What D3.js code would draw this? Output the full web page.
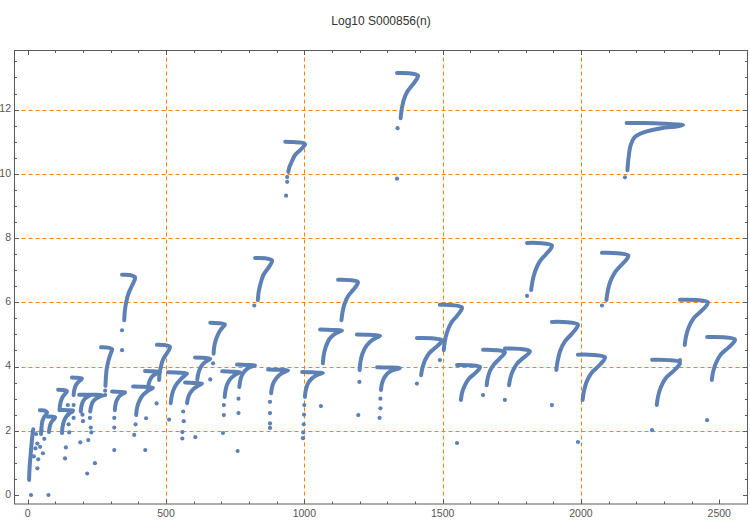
<!DOCTYPE html>
<html><head><meta charset="utf-8">
<script src="https://cdn.jsdelivr.net/npm/d3@7"></script>
<style>body{margin:0;background:#fff}svg{display:block}</style>
</head><body>
<script>
const title = "Log10 S000856(n)";
const xTicks = [0, 500, 1000, 1500, 2000, 2500];
const yTicks = [0, 2, 4, 6, 8, 10, 12];
const gridX = [500, 1000, 1500, 2000];
const gridY = [2, 4, 6, 8, 10, 12];

// dense "?"-shaped runs of points, [n, log10 value]
const hookPaths = [
  [[5,0.47],[6,0.7],[8,1.0],[11,1.3],[14,1.6],[17,1.85],[20,2.05]],
  [[48,1.9],[50,2.1],[53,2.3],[59,2.42],[66,2.5],[70,2.57],[62,2.63],[44,2.64]],
  [[77,1.96],[79,2.1],[83,2.22],[90,2.32],[97,2.38],[99,2.42],[88,2.44],[73,2.44]],
  [[115,2.64],[117,2.8],[121,2.95],[128,3.08],[137,3.17],[142,3.23],[128,3.27],[110,3.28]],
  [[124,1.93],[126,2.12],[131,2.3],[140,2.45],[152,2.55],[162,2.6],[164,2.63],[145,2.64],[117,2.65]],
  [[166,3.11],[168,3.25],[172,3.38],[179,3.48],[188,3.56],[194,3.6],[196,3.63],[180,3.65],[160,3.66]],
  [[192,2.6],[194,2.75],[198,2.88],[205,2.98],[215,3.05],[223,3.09],[225,3.1],[208,3.12],[186,3.12]],
  [[226,2.6],[229,2.75],[234,2.88],[244,2.98],[258,3.05],[269,3.09],[272,3.1],[248,3.12],[218,3.12]],
  [[281,3.4],[283,3.7],[286,3.95],[291,4.15],[297,4.33],[303,4.47],[305,4.54],[290,4.59],[265,4.6]],
  [[315,2.64],[317,2.8],[322,2.95],[330,3.06],[341,3.14],[350,3.18],[352,3.2],[335,3.21],[305,3.22]],
  [[349,5.44],[351,5.72],[356,6.0],[365,6.29],[376,6.5],[386,6.68],[388,6.78],[369,6.85],[341,6.86]],
  [[392,2.49],[395,2.7],[402,2.9],[415,3.1],[432,3.23],[448,3.31],[453,3.34],[420,3.37],[381,3.38]],
  [[434,3.3],[437,3.45],[442,3.58],[451,3.7],[463,3.77],[474,3.81],[478,3.83],[455,3.85],[424,3.86]],
  [[475,3.58],[477,3.8],[482,4.02],[490,4.23],[502,4.4],[512,4.54],[514,4.62],[495,4.67],[467,4.68]],
  [[517,2.86],[520,3.05],[526,3.25],[538,3.45],[555,3.62],[570,3.74],[576,3.78],[545,3.81],[507,3.82]],
  [[576,2.86],[579,3.0],[585,3.14],[597,3.28],[612,3.38],[626,3.45],[630,3.47],[600,3.49],[569,3.5]],
  [[613,3.6],[616,3.75],[621,3.9],[630,4.04],[642,4.14],[655,4.21],[660,4.24],[635,4.27],[605,4.28]],
  [[672,4.4],[674,4.6],[679,4.8],[688,5.0],[698,5.15],[709,5.26],[713,5.31],[690,5.35],[660,5.36]],
  [[712,3.05],[715,3.25],[721,3.45],[733,3.62],[748,3.73],[763,3.8],[768,3.82],[740,3.84],[703,3.85]],
  [[765,3.36],[768,3.55],[774,3.72],[786,3.87],[801,3.97],[817,4.02],[822,4.04],[790,4.05],[757,4.06]],
  [[832,6.07],[835,6.33],[842,6.59],[852,6.85],[868,7.05],[880,7.21],[883,7.31],[859,7.37],[822,7.38]],
  [[880,3.17],[883,3.35],[890,3.52],[903,3.68],[920,3.8],[936,3.86],[941,3.88],[905,3.9],[869,3.91]],
  [[942,10.06],[946,10.21],[954,10.37],[966,10.58],[984,10.73],[998,10.86],[1003,10.92],[990,10.97],[960,10.99],[931,11.0]],
  [[1002,3.05],[1005,3.25],[1012,3.45],[1026,3.62],[1044,3.73],[1062,3.79],[1067,3.8],[1030,3.82],[992,3.83]],
  [[1067,4.1],[1070,4.35],[1077,4.6],[1090,4.85],[1108,5.0],[1130,5.1],[1136,5.12],[1100,5.14],[1057,5.15]],
  [[1134,5.44],[1138,5.69],[1145,5.94],[1158,6.19],[1176,6.38],[1190,6.54],[1194,6.63],[1165,6.69],[1122,6.7]],
  [[1200,3.89],[1203,4.15],[1210,4.4],[1225,4.65],[1245,4.82],[1268,4.93],[1274,4.96],[1235,4.99],[1190,5.0]],
  [[1277,3.27],[1280,3.45],[1287,3.62],[1300,3.78],[1318,3.88],[1338,3.93],[1345,3.95],[1305,3.97],[1263,3.98]],
  [[1348,11.73],[1352,12.01],[1359,12.29],[1373,12.57],[1392,12.78],[1407,12.96],[1411,13.06],[1380,13.13],[1335,13.14]],
  [[1422,3.73],[1427,3.96],[1436,4.19],[1452,4.42],[1474,4.59],[1493,4.74],[1497,4.82],[1461,4.88],[1407,4.89]],
  [[1504,4.51],[1508,4.79],[1516,5.07],[1530,5.35],[1550,5.56],[1566,5.74],[1570,5.84],[1538,5.91],[1490,5.92]],
  [[1566,2.96],[1570,3.18],[1579,3.39],[1594,3.61],[1614,3.77],[1631,3.91],[1635,3.99],[1602,4.04],[1552,4.05]],
  [[1659,3.42],[1663,3.64],[1671,3.86],[1686,4.07],[1705,4.24],[1721,4.38],[1725,4.45],[1693,4.51],[1646,4.52]],
  [[1740,3.42],[1745,3.65],[1754,3.87],[1770,4.1],[1792,4.27],[1811,4.41],[1815,4.48],[1779,4.55],[1725,4.56]],
  [[1820,6.38],[1825,6.67],[1834,6.96],[1850,7.26],[1872,7.48],[1890,7.66],[1895,7.77],[1859,7.84],[1805,7.85]],
  [[1911,3.89],[1916,4.19],[1925,4.49],[1942,4.78],[1966,5.01],[1984,5.2],[1989,5.31],[1951,5.38],[1895,5.39]],
  [[2006,2.96],[2011,3.24],[2020,3.52],[2038,3.8],[2063,4.01],[2082,4.19],[2087,4.29],[2048,4.36],[1989,4.37]],
  [[2092,6.07],[2097,6.36],[2106,6.65],[2124,6.95],[2147,7.17],[2166,7.35],[2171,7.46],[2133,7.53],[2076,7.54]],
  [[2168,10.11],[2172,10.5],[2180,10.9],[2195,11.15],[2230,11.3],[2290,11.42],[2350,11.48],[2369,11.52],[2300,11.56],[2230,11.58],[2165,11.58]],
  [[2274,2.8],[2279,3.08],[2289,3.36],[2307,3.64],[2333,3.85],[2353,4.03],[2358,4.13],[2318,4.2],[2257,4.21]],
  [[2375,4.67],[2380,4.95],[2390,5.23],[2408,5.51],[2434,5.72],[2454,5.9],[2459,6.0],[2419,6.07],[2358,6.08]],
  [[2473,3.58],[2478,3.85],[2488,4.11],[2506,4.38],[2532,4.58],[2552,4.75],[2557,4.84],[2517,4.91],[2456,4.92]]
];

// sparse points below / between the hooks
const loosePoints = [
  [12,0],[75,0],[35,0.83],[38,1.11],[22,1.2],[28,1.45],[35,1.6],[45,1.5],[55,1.3],[60,1.75],[30,1.9],[50,2.0],
  [215,0.67],[243,0.99],[138,1.48],[135,1.14],[313,1.4],[425,1.4],[190,1.64],[219,1.71],[385,1.87],
  [145,2.8],[146,2.5],[148,2.2],[150,1.95],[166,2.8],[166,2.4],[198,2.5],[200,2.3],[225,2.4],[228,2.1],[230,1.95],
  [280,3.11],[280,3.25],[313,2.4],[313,2.1],[390,2.2],[428,2.39],[466,2.85],[341,5.13],[341,4.51],
  [511,2.35],[562,2.6],[564,2.3],[559,1.96],[559,1.76],[606,1.8],[670,4.1],[660,3.6],
  [709,2.8],[709,2.49],[706,1.93],[762,3.0],[762,2.55],[759,1.37],[819,5.9],
  [876,2.9],[876,2.55],[876,2.23],[876,2.09],[938,9.9],[938,9.75],[934,9.32],
  [1000,2.8],[999,2.5],[998,2.2],[996,1.95],[995,1.77],[1060,2.77],[1122,5.13],
  [1199,3.52],[1195,2.49],[1275,3.0],[1275,2.7],[1272,2.4],[1335,9.85],[1337,11.42],[1407,3.47],[1490,4.2],
  [1552,1.62],[1646,3.11],[1725,2.96],[1805,6.2],[1895,2.8],[1989,1.65],[2076,5.9],[2159,9.89],[2257,2.02],
  [2358,4.2],[2456,2.33]
];

const W = 750, H = 521;
const frame = {left: 14.5, right: 747.5, top: 50.5, bottom: 504};
const x = d3.scaleLinear().domain([-47.7, 2602]).range([frame.left, frame.right]);
const y = d3.scaleLinear().domain([-0.28, 13.84]).range([frame.bottom, frame.top]);
const ptColor = "#5e81b5";
const frameColor = "#5a5a5a";
const labelColor = "#555";

const svg = d3.select("body").append("svg").attr("width", W).attr("height", H);

svg.append("text").attr("x", 381).attr("y", 22).attr("text-anchor", "middle")
  .attr("dominant-baseline", "middle").attr("font-family", "Liberation Sans, Arial, sans-serif")
  .attr("font-size", 12).attr("fill", "#333").text(title);

// grid
const grid = svg.append("g").attr("stroke", "#ff8000").attr("stroke-width", 1).attr("stroke-dasharray", "4,3");
grid.selectAll("line.gx").data(gridX).join("line").attr("class", "gx")
  .attr("x1", d => Math.round(x(d)) + 0.5).attr("x2", d => Math.round(x(d)) + 0.5)
  .attr("y1", frame.top).attr("y2", frame.bottom);
grid.selectAll("line.gy").data(gridY).join("line").attr("class", "gy")
  .attr("y1", d => Math.round(y(d)) + 0.5).attr("y2", d => Math.round(y(d)) + 0.5)
  .attr("x1", frame.left).attr("x2", frame.right);

// marks
const line = d3.line().x(d => x(d[0])).y(d => y(d[1])).curve(d3.curveCatmullRom.alpha(0.5));
svg.append("g").selectAll("path").data(hookPaths).join("path")
  .attr("d", line).attr("fill", "none").attr("stroke", ptColor)
  .attr("stroke-width", 4).attr("stroke-linecap", "round").attr("stroke-linejoin", "round");
svg.append("g").selectAll("circle").data(loosePoints).join("circle")
  .attr("cx", d => x(d[0])).attr("cy", d => y(d[1])).attr("r", 2.1).attr("fill", ptColor);

// frame
svg.append("rect").attr("x", frame.left).attr("y", frame.top)
  .attr("width", frame.right - frame.left).attr("height", frame.bottom - frame.top)
  .attr("fill", "none").attr("stroke", frameColor).attr("stroke-width", 1);

// ticks (inward, on all four sides)
const xMinor = d3.range(0, 2601, 100).filter(v => v % 500 !== 0);
const yMinor = d3.range(0, 13.9, 0.5).filter(v => v % 2 !== 0);
const tk = svg.append("g").attr("stroke", frameColor).attr("stroke-width", 1);
function xt(vals, len) {
  vals.forEach(v => {
    const px = Math.round(x(v)) + 0.5;
    tk.append("line").attr("x1", px).attr("x2", px).attr("y1", frame.bottom).attr("y2", frame.bottom - len);
    tk.append("line").attr("x1", px).attr("x2", px).attr("y1", frame.top).attr("y2", frame.top + len);
  });
}
function yt(vals, len) {
  vals.forEach(v => {
    const py = Math.round(y(v)) + 0.5;
    tk.append("line").attr("y1", py).attr("y2", py).attr("x1", frame.left).attr("x2", frame.left + len);
    tk.append("line").attr("y1", py).attr("y2", py).attr("x1", frame.right).attr("x2", frame.right - len);
  });
}
xt(xTicks, 4.5); xt(xMinor, 2.5); yt(yTicks, 4.5); yt(yMinor, 2.5);

const lab = svg.append("g").attr("font-family", "Liberation Sans, Arial, sans-serif")
  .attr("font-size", 10.5).attr("fill", labelColor);
lab.selectAll("text.xl").data(xTicks).join("text").attr("class", "xl")
  .attr("x", d => x(d)).attr("y", 514).attr("text-anchor", "middle")
  .attr("dominant-baseline", "middle").text(d => d);
lab.selectAll("text.yl").data(yTicks).join("text").attr("class", "yl")
  .attr("x", 11).attr("y", d => y(d)).attr("text-anchor", "end")
  .attr("dominant-baseline", "middle").text(d => d);
</script>
</body></html>
